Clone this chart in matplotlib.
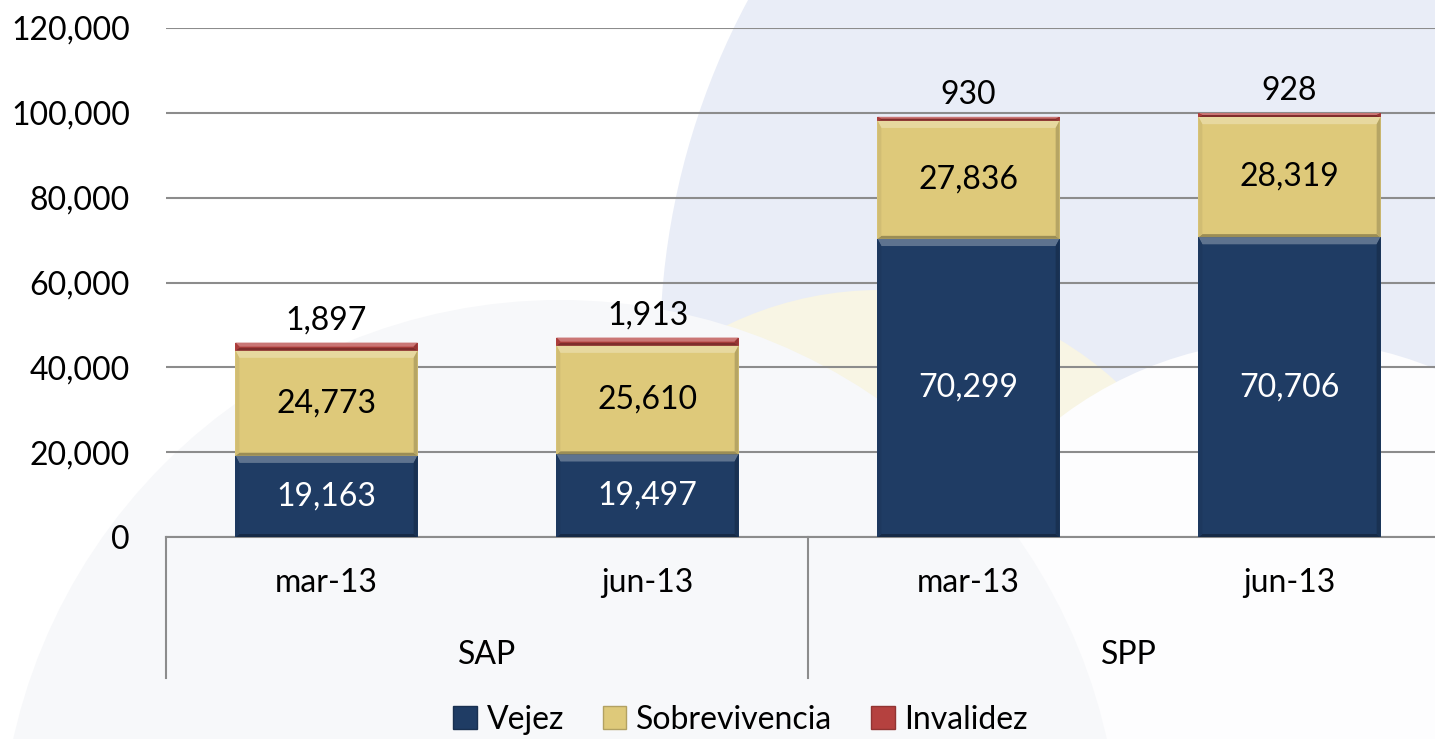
import matplotlib
matplotlib.use("Agg")
import matplotlib.pyplot as plt
from matplotlib.patches import Circle, Polygon, Patch
import matplotlib.transforms as mtransforms
import numpy as np

plt.rcParams['font.family'] = ['Lato', 'DejaVu Sans']

periods = ['mar-13', 'jun-13', 'mar-13', 'jun-13']
groups = ['SAP', 'SPP']
vejez = np.array([19163, 19497, 70299, 70706])
sobrevivencia = np.array([24773, 25610, 27836, 28319])
invalidez = np.array([1897, 1913, 930, 928])

c_vej = '#1f3c64'
c_sob = '#dec97a'
c_inv = '#b5413f'

W, H = 1435, 739
fig = plt.figure(figsize=(W / 100, H / 100), dpi=100)
fig.patch.set_facecolor('white')

# faint background circles (pixel coords from bottom-left)
bg = [((1400, H - 350), 740, '#e9edf7'),
      ((880, H - 640), 350, '#f8f5e4'),
      ((1290, H - 720), 380, '#fdfdfe'),
      ((560, H - 860), 560, '#f7f8fa')]
for (cx, cy), r, col in bg:
    fig.patches.append(Circle((cx, cy), r, transform=None, color=col, zorder=-10, lw=0))

ax = fig.add_axes([166 / W, 202 / H, 4 * 321 / W, 509 / H])
ax.set_facecolor('none')

x = np.arange(len(periods))
bw = 0.567
b1 = ax.bar(x, vejez, bw, color=c_vej, zorder=3)
b2 = ax.bar(x, sobrevivencia, bw, bottom=vejez, color=c_sob, zorder=3)
b3 = ax.bar(x, invalidez, bw, bottom=vejez + sobrevivencia, color=c_inv, zorder=3)


def shade(col, f):
    rgb = np.array(matplotlib.colors.to_rgb(col))
    if f > 0:
        return tuple(rgb + (1 - rgb) * f)
    return tuple(rgb * (1 + f))


def bevel(rect, col):
    x0, y0, w, h = rect.get_x(), rect.get_y(), rect.get_width(), rect.get_height()
    by = min(1700, h / 2)
    bb = min(700, h / 2)
    bx = 0.012
    top = [(x0, y0 + h), (x0 + w, y0 + h), (x0 + w - bx, y0 + h - by), (x0 + bx, y0 + h - by)]
    bot = [(x0, y0), (x0 + w, y0), (x0 + w - bx, y0 + bb), (x0 + bx, y0 + bb)]
    lef = [(x0, y0), (x0 + bx, y0 + bb), (x0 + bx, y0 + h - by), (x0, y0 + h)]
    rig = [(x0 + w, y0), (x0 + w - bx, y0 + bb), (x0 + w - bx, y0 + h - by), (x0 + w, y0 + h)]
    for pts, f in [(top, 0.28), (bot, -0.3), (lef, -0.06), (rig, -0.18)]:
        ax.add_patch(Polygon(pts, closed=True, color=shade(col, f), lw=0, zorder=4))


for bars, col in [(b1, c_vej), (b2, c_sob), (b3, c_inv)]:
    for r in bars:
        bevel(r, col)

fs = 23
for i in range(len(x)):
    ax.text(x[i], vejez[i] / 2, f"{vejez[i]:,}", ha='center', va='center',
            color='white', fontsize=fs, zorder=5)
    ax.text(x[i], vejez[i] + sobrevivencia[i] / 2, f"{sobrevivencia[i]:,}",
            ha='center', va='center', color='black', fontsize=fs, zorder=5)
    ax.annotate(f"{invalidez[i]:,}", (x[i], vejez[i] + sobrevivencia[i] + invalidez[i]),
                xytext=(0, 5), textcoords='offset points', ha='center', va='bottom',
                fontsize=fs, zorder=5)

ax.set_xlim(-0.5, 3.5)
ax.set_ylim(0, 120000)
ax.set_yticks(np.arange(0, 120001, 20000))
ax.yaxis.set_major_formatter(matplotlib.ticker.FuncFormatter(lambda v, p: f"{int(v):,}"))
ax.tick_params(axis='y', length=0, pad=26, labelsize=fs)
ax.set_xticks([])
ax.grid(axis='y', color='#8c8c8c', lw=1.5, zorder=1)
for s in ['left', 'right', 'top']:
    ax.spines[s].set_visible(False)
ax.spines['bottom'].set_color('#8c8c8c')
ax.spines['bottom'].set_linewidth(1.5)
ax.spines['bottom'].set_zorder(2)

tr = mtransforms.blended_transform_factory(ax.transData, ax.transAxes)
for i, p in enumerate(periods):
    ax.text(x[i], -0.09, p, transform=tr, ha='center', va='center', fontsize=fs)
for g, name in enumerate(groups):
    ax.text(2 * g + 0.5, -0.232, name, transform=tr, ha='center', va='center', fontsize=fs)
for xb in [-0.5, 1.5, 3.5]:
    ax.plot([xb, xb], [0, -0.277], transform=tr, color='#8c8c8c', lw=1.5, clip_on=False)

handles = [Patch(facecolor=c_vej, edgecolor=shade(c_vej, -0.2)),
           Patch(facecolor=c_sob, edgecolor=shade(c_sob, -0.2)),
           Patch(facecolor=c_inv, edgecolor=shade(c_inv, -0.2))]
fig.legend(handles, ['Vejez', 'Sobrevivencia', 'Invalidez'], loc='center',
           bbox_to_anchor=(0.516, 0.026), ncol=3, frameon=False, fontsize=fs,
           handlelength=0.75, handleheight=0.75, handletextpad=0.3, columnspacing=1.2)

fig.savefig('out.png', dpi=100)
